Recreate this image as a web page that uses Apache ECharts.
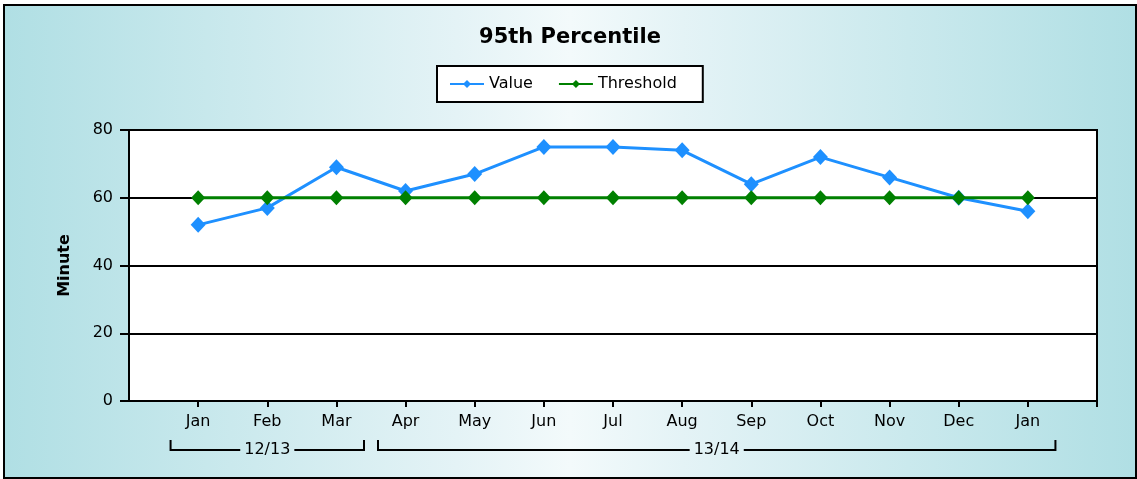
<!DOCTYPE html>
<html>
<head>
<meta charset="utf-8">
<script src="https://cdn.jsdelivr.net/npm/echarts@6/dist/echarts.min.js"></script>
<style>
  body { margin: 0; background: #fff; }
  #frame {
    position: absolute; left: 3px; top: 4px; width: 1130px; height: 471px;
    border: 2px solid #000;
    background: linear-gradient(to right, #b0dfe4 0%, #e4f3f6 40%, #f3fafb 50%, #e4f3f6 60%, #b0dfe4 100%);
  }
  #chart { width: 1130px; height: 471px; }
</style>
</head>
<body>
<div id="frame"><div id="chart"></div></div>
<script>
const months = ['Jan', 'Feb', 'Mar', 'Apr', 'May', 'Jun', 'Jul', 'Aug', 'Sep', 'Oct', 'Nov', 'Dec', 'Jan'];
const valueData = [52, 57, 69, 62, 67, 75, 75, 74, 64, 72, 66, 60, 56];
const thresholdData = [60, 60, 60, 60, 60, 60, 60, 60, 60, 60, 60, 60, 60];
const yTicks = [0, 20, 40, 60, 80];
const groupLabels = ['12/13', '13/14'];
const groupFirst = [0, 3];   // index into months
const groupLast = [2, 12];

const FONT = 'DejaVu Sans, Verdana, sans-serif';

// empty slot at each end, like the original axis
const axisCats = [''].concat(months, ['']);
const pad = arr => [null].concat(arr, [null]);

const chart = echarts.init(document.getElementById('chart'));

const option = {
  animation: false,
  backgroundColor: 'transparent',
  textStyle: { fontFamily: FONT },
  title: {
    text: '95th Percentile',
    left: 'center',
    top: 16,
    textStyle: { fontFamily: FONT, fontSize: 21, fontWeight: 'bold', color: '#000' }
  },
  legend: {
    data: ['Value', 'Threshold'],
    left: 432,
    top: 60,
    padding: [10, 26, 10, 12],
    itemGap: 25,
    itemWidth: 34,
    itemHeight: 10,
    backgroundColor: '#fff',
    borderColor: '#000',
    borderWidth: 2,
    borderRadius: 0,
    textStyle: { fontFamily: FONT, fontSize: 16, color: '#000' }
  },
  grid: {
    left: 124,
    right: 38,
    top: 124,
    bottom: 76,
    show: true,
    backgroundColor: '#fff',
    borderColor: '#000',
    borderWidth: 2
  },
  xAxis: {
    type: 'category',
    data: axisCats,
    boundaryGap: false,
    axisLine: { lineStyle: { color: '#000', width: 2 } },
    axisTick: { show: true, length: 6, interval: i => i > 0, lineStyle: { color: '#000', width: 2 } },
    axisLabel: { interval: 0, color: '#000', fontSize: 16, margin: 13, fontFamily: FONT },
    splitLine: { show: false }
  },
  yAxis: {
    type: 'value',
    min: yTicks[0],
    max: yTicks[yTicks.length - 1],
    interval: 20,
    name: 'Minute',
    nameLocation: 'middle',
    nameGap: 56,
    nameRotate: 90,
    nameTextStyle: { fontFamily: FONT, fontSize: 16, fontWeight: 'bold', color: '#000' },
    axisLine: { show: true, lineStyle: { color: '#000', width: 2 } },
    axisTick: { show: true, length: 9, lineStyle: { color: '#000', width: 2 } },
    axisLabel: { color: '#000', fontSize: 16, margin: 16, fontFamily: FONT },
    splitLine: { lineStyle: { color: '#000', width: 2 } }
  },
  series: [
    {
      name: 'Value',
      type: 'line',
      data: pad(valueData),
      symbol: 'diamond',
      symbolSize: [15, 16],
      itemStyle: { color: '#1e90ff' },
      lineStyle: { color: '#1e90ff', width: 3 },
      z: 2
    },
    {
      name: 'Threshold',
      type: 'line',
      data: pad(thresholdData),
      symbol: 'diamond',
      symbolSize: [14, 15],
      itemStyle: { color: '#008000' },
      lineStyle: { color: '#008000', width: 3 },
      z: 3
    }
  ]
};

chart.setOption(option);

// group brackets under the month labels
function textWidth(str, size) {
  const ctx = document.createElement('canvas').getContext('2d');
  ctx.font = size + 'px ' + FONT;
  return ctx.measureText(str).width;
}

const px = i => chart.convertToPixel({ xAxisIndex: 0 }, i + 1);
const slot = px(1) - px(0);
const lineY = 444;
const topY = 434;
const graphics = [];
groupLabels.forEach((label, g) => {
  const x0 = px(groupFirst[g]) - slot / 2 + 7;
  const x1 = px(groupLast[g]) + slot / 2 - 7;
  const cx = (px(groupFirst[g]) + px(groupLast[g])) / 2;
  const half = textWidth(label, 16) / 2 + 4;
  const style = { stroke: '#000', lineWidth: 2, fill: null };
  graphics.push(
    { type: 'polyline', shape: { points: [[x0, topY], [x0, lineY], [cx - half, lineY]] }, style },
    { type: 'polyline', shape: { points: [[cx + half, lineY], [x1, lineY], [x1, topY]] }, style },
    { type: 'text', x: cx, y: lineY, style: { text: label, font: '16px ' + FONT, fill: '#000', align: 'center', verticalAlign: 'middle' } }
  );
});
chart.setOption({ graphic: graphics });
</script>
</body>
</html>
